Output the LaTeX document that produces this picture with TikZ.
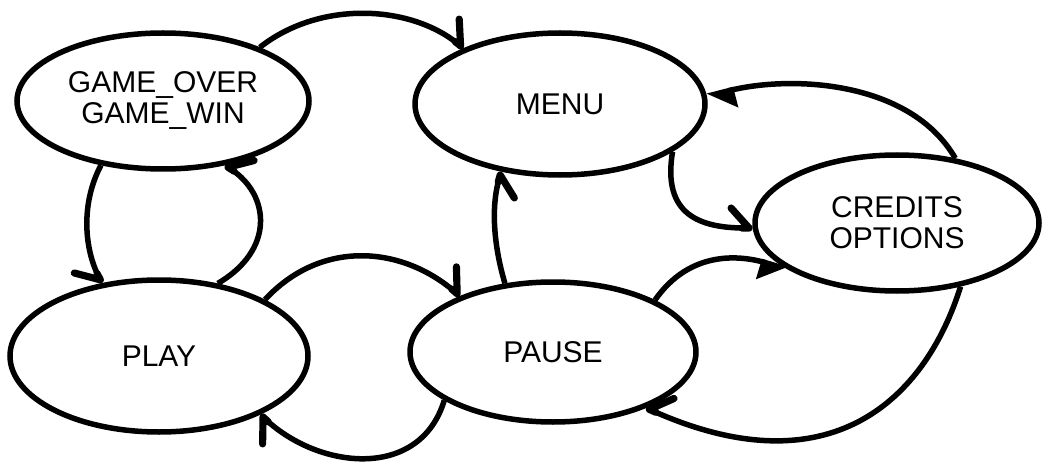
\documentclass[tikz,border=0pt]{standalone}
\usepackage{fontspec}
\setmainfont{Liberation Sans}
\usetikzlibrary{shapes.geometric,arrows.meta}
\begin{document}
\begin{tikzpicture}[x=1pt,y=-1pt,
  state/.style={draw,ellipse,line width=5.5pt,inner sep=0pt,align=center,
    font=\fontsize{30}{31}\selectfont},
  conn/.style={line width=5.5pt,-{Straight Barb[harpoon,length=18pt,width=40pt,line width=0pt 1.3,round]}},
  connr/.style={line width=5.5pt,-{Straight Barb[harpoon,swap,length=18pt,width=40pt,line width=0pt 1.3,round]}},
  conntri/.style={line width=5.5pt,-{Triangle[harpoon,length=24pt,width=36pt]}},
  conntrir/.style={line width=5.5pt,-{Triangle[harpoon,swap,length=24pt,width=36pt]}}]
\useasboundingbox (0,0) rectangle (1047,468);
\node[state,minimum width=292pt,minimum height=136pt] (game) at (163,101) {GAME\_OVER\\GAME\_WIN};
\node[state,minimum width=290pt,minimum height=142pt] (menu) at (560,104) {MENU};
\node[state,minimum width=284pt,minimum height=136pt] (cred) at (897,223) {CREDITS\\OPTIONS};
\node[state,minimum width=298pt,minimum height=152pt] (play) at (159,356) {PLAY};
\node[state,minimum width=286pt,minimum height=140pt] (pause) at (553,352) {PAUSE};
% connectors
\draw[conn] (game.29) .. controls (320,0) and (410,5) .. (menu.150);
\draw[connr] (game.226) .. controls (80,205) and (85,250) .. (play.128);
\draw[connr] (play.51) .. controls (275,250) and (270,195) .. (game.314);
\draw[conn] (play.28) .. controls (320,240) and (400,245) .. (pause.149);
\draw[conn] (pause.204) .. controls (420,480) and (320,470) .. (play.330);
\draw[connr] (pause.125) .. controls (495,250) and (490,210) .. (menu.229);
\draw[conn] (menu.337) .. controls (662,215) and (700,228) .. (cred.182);
\draw[conntri] (cred.48) .. controls (910,80) and (790,75) .. (menu.3);
\draw[conntrir] (pause.27) .. controls (690,250) and (740,255) .. (cred.203);
\draw[connr] (cred.315) .. controls (925,400) and (830,490) .. (pause.329);
\end{tikzpicture}
\end{document}
